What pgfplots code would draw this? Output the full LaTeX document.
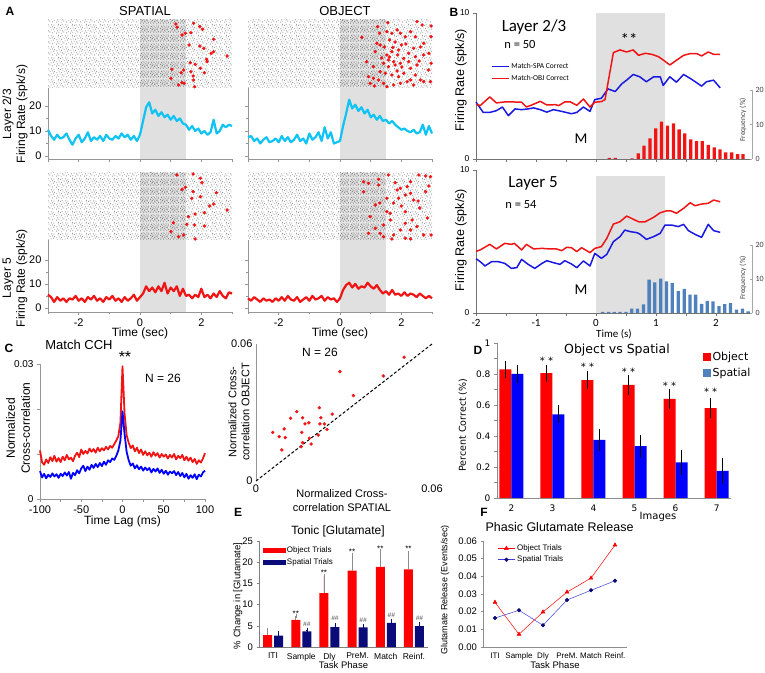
\documentclass[border=0pt]{standalone}
\usepackage{pgfplots}
\pgfplotsset{compat=1.18}
\usepackage{fontspec}
\setmainfont{Liberation Sans}
\newfontfamily\carlito{Carlito}
\newfontfamily\dejavu{DejaVu Sans}
\usetikzlibrary{patterns}
\newcommand\fz[2]{\fontsize{#1}{#2}\selectfont}
\definecolor{cyanA}{RGB}{15,195,245}
\definecolor{redA}{RGB}{240,20,20}
\definecolor{blueB}{RGB}{25,25,225}
\definecolor{steelB}{RGB}{79,129,189}
\definecolor{shade}{RGB}{224,224,224}
\definecolor{navyE}{RGB}{10,10,120}
\definecolor{axgray}{RGB}{150,150,150}

\newcommand\rk[2]{\pgfpathrectangle{\pgfpoint{#1pt}{#2pt}}{\pgfpoint{0.5pt}{1.1pt}}}
\pgfdeclarepatternformonly{rastA}{\pgfpointorigin}{\pgfpoint{14pt}{11pt}}{\pgfpoint{14pt}{11pt}}{%
\rk{0.3}{0.4}\rk{2.9}{1.1}\rk{5.6}{0.2}\rk{8.1}{1.6}\rk{10.7}{0.7}\rk{12.8}{2.1}%
\rk{1.4}{2.8}\rk{4.2}{3.5}\rk{6.9}{2.9}\rk{9.5}{3.9}\rk{11.9}{4.6}\rk{0.6}{5.2}%
\rk{3.1}{6.0}\rk{5.8}{5.4}\rk{8.4}{6.6}\rk{10.9}{7.0}\rk{13.1}{6.3}\rk{1.9}{8.1}%
\rk{4.6}{8.7}\rk{7.2}{8.0}\rk{9.8}{9.3}\rk{12.3}{8.9}\rk{2.5}{9.7}\rk{6.3}{9.6}%
\pgfusepath{fill}}
\pgfdeclarepatternformonly{rastB}{\pgfpointorigin}{\pgfpoint{10pt}{9pt}}{\pgfpoint{10pt}{9pt}}{%
\rk{0.2}{0.3}\rk{1.9}{1.2}\rk{3.6}{0.5}\rk{5.4}{1.5}\rk{7.1}{0.2}\rk{8.8}{1.0}%
\rk{0.9}{2.6}\rk{2.7}{3.1}\rk{4.5}{2.7}\rk{6.3}{3.4}\rk{8.1}{2.9}\rk{0.4}{4.6}%
\rk{2.1}{5.1}\rk{3.9}{4.4}\rk{5.7}{5.3}\rk{7.5}{4.8}\rk{9.2}{5.6}\rk{1.3}{6.8}%
\rk{3.1}{7.2}\rk{4.9}{6.6}\rk{6.8}{7.4}\rk{8.5}{6.9}%
\pgfusepath{fill}}

\pgfplotsset{
  every axis/.append style={scale only axis, clip=false, /pgf/number format/assume math mode=true},
  raster/.style={anchor=south west, width=184pt, height=68pt, xmin=-3, xmax=3, ymin=0, ymax=68, y dir=reverse, hide axis},
  frbase/.style={anchor=south west, xmin=-3, xmax=3, width=184pt, axis x line*=bottom, axis y line*=left,
     axis line style={axgray,line width=0.6pt}, tick style={axgray,line width=0.6pt}, tick align=outside,
     major tick length=3pt, minor tick length=2pt, ytick={0,10,20}, minor ytick={5,15},
     tick label style={font=\fz{11}{12}}, xlabel style={font=\fz{12}{13}, yshift=5pt}},
}

\begin{document}
\begin{tikzpicture}
\useasboundingbox (0,0) rectangle (765pt,672pt);

% ================= PANEL A =================
\node[font=\bfseries\fz{12}{12}] at (10pt,661pt) {A};
\node[font=\fz{13}{14}] at (145pt,661pt) {SPATIAL};
\node[font=\fz{13}{14}] at (345pt,661pt) {OBJECT};
\node[rotate=90, align=center, font=\fz{12}{14}] at (15pt,558pt) {Layer 2/3\\Firing Rate (spk/s)};
\node[rotate=90, align=center, font=\fz{12}{14}] at (15pt,394pt) {Layer 5\\Firing Rate (spk/s)};

% raster top-left
\begin{axis}[raster, at={(48pt,584pt)}]
\addplot[draw=none, pattern=rastA, pattern color=black!60] coordinates {(-3,0)(3,0)(3,68)(-3,68)} -- cycle;
\addplot[draw=none, fill=shade, fill opacity=0.85] coordinates {(0,0)(1.5,0)(1.5,68)(0,68)} -- cycle;
\addplot[draw=none, pattern=rastB, pattern color=black!65] coordinates {(0,0)(1.5,0)(1.5,68)(0,68)} -- cycle;
\addplot[only marks, mark=*, mark size=1.5pt, color=redA] coordinates {(1.17,4)(1.21,7.3)(1.75,3.3)(1.95,6.7)(2.04,9.3)(1.37,15)(1.48,13.3)(1.66,12.7)(2.40,19.3)(1.95,26)(2.08,28.3)(2.32,33.3)(2.40,31.7)(2.19,41.7)(2.17,39.3)(1.97,48.3)(1.80,44.3)(1.64,42.7)(2.84,36)(1.60,25)(1.42,50)(1.04,49.3)(1.34,52.7)(1.66,51.7)(1.73,56)(1.75,60)(1.37,62.7)(1.26,65)(1.01,58.3)(2.10,52.7)(1.78,66.7)(1.44,63.3)};
\end{axis}
% raster top-right
\begin{axis}[raster, at={(248pt,584pt)}]
\addplot[draw=none, pattern=rastA, pattern color=black!60] coordinates {(-3,0)(3,0)(3,68)(-3,68)} -- cycle;
\addplot[draw=none, fill=shade, fill opacity=0.85] coordinates {(0,0)(1.5,0)(1.5,68)(0,68)} -- cycle;
\addplot[draw=none, pattern=rastB, pattern color=black!65] coordinates {(0,0)(1.5,0)(1.5,68)(0,68)} -- cycle;
\addplot[only marks, mark=*, mark size=1.5pt, color=redA] coordinates {(1.23,6.7)(1.29,13.3)(1.56,2.7)(1.53,11.7)(0.71,17.3)(1.20,23.3)(1.31,25)(1.69,13.3)(1.86,10)(1.97,13.3)(2.13,16.7)(2.30,11.7)(2.46,16.7)(2.51,1.7)(2.68,5)(2.97,6)(2.97,16.7)(2.73,23.3)(2.40,28.3)(2.24,33.3)(1.91,30)(1.69,31.7)(1.53,35)(1.58,40)(1.75,41.7)(1.42,43.3)(1.58,46.7)(1.80,45)(1.97,43.3)(2.08,38.3)(2.24,41.7)(2.46,36.7)(2.51,45)(2.73,35)(2.90,33.3)(2.97,43.3)(2.30,48.3)(2.08,53.3)(1.91,56.7)(1.69,55)(1.48,53.3)(1.31,51.7)(1.09,58.3)(0.93,56.7)(0.87,41.7)(1.15,31.7)(1.09,46.7)(2.46,55)(2.62,60)(2.19,61.7)(2.40,65)(1.97,63.3)(1.75,65)(1.42,63.3)(1.53,66.7)(2.73,61.7)(2.95,61.7)(2.30,60)(1.26,60)(0.98,63.3)(1.62,20)(1.80,22)(2.00,25)(1.45,27)(1.72,27.5)(2.15,24)(1.88,35)(1.62,37)(2.62,27)(2.88,50)(2.02,47)(1.86,51)(2.58,41)(1.36,38)(1.12,66)};
\end{axis}

% firing rate L2/3 spatial
\begin{axis}[frbase, at={(48pt,513pt)}, height=71pt, ymin=-1.2, ymax=27.2, xtick={-3,-2,-1,0,1,2,3}, xticklabel={\empty}]
\addplot[draw=none, fill=shade] coordinates {(0,-1.2)(1.5,-1.2)(1.5,27.2)(0,27.2)} -- cycle;
\addplot[cyanA, line width=2.2pt, line join=round] coordinates {(-3,10.5)(-2.9,8)(-2.8,6.5)(-2.7,8.5)(-2.6,7)(-2.5,7.5)(-2.4,9)(-2.3,6.5)(-2.2,4.5)(-2.1,7)(-2,8.5)(-1.9,5.5)(-1.8,7)(-1.7,9.5)(-1.6,6)(-1.5,7.5)(-1.4,6.5)(-1.3,8)(-1.2,6)(-1.1,8.5)(-1,7)(-0.9,6.5)(-0.8,8)(-0.7,7)(-0.6,9)(-0.5,7.5)(-0.4,8.5)(-0.3,6.5)(-0.2,8)(-0.1,6)(0,8.5)(0.1,14)(0.2,19.5)(0.3,21.5)(0.4,17)(0.5,18.5)(0.6,16)(0.7,17.5)(0.8,15.5)(0.9,16.5)(1,14.5)(1.1,16)(1.2,14)(1.3,15)(1.4,13)(1.5,12.5)(1.6,10.5)(1.7,12)(1.8,10)(1.9,11)(2,9)(2.1,10)(2.2,8.5)(2.3,9.5)(2.4,14.5)(2.5,9)(2.6,10)(2.7,12.5)(2.8,11.5)(2.9,12.5)(3,12)};
\end{axis}
% firing rate L2/3 object
\begin{axis}[frbase, at={(248pt,513pt)}, height=71pt, ymin=-1.2, ymax=27.2, xtick={-3,-2,-1,0,1,2,3}, xticklabel={\empty}, yticklabel={\empty}]
\addplot[draw=none, fill=shade] coordinates {(0,-1.2)(1.5,-1.2)(1.5,27.2)(0,27.2)} -- cycle;
\addplot[cyanA, line width=2.2pt, line join=round] coordinates {(-3,7.5)(-2.9,8)(-2.8,6)(-2.7,7)(-2.6,5)(-2.5,6.5)(-2.4,7.5)(-2.3,5.5)(-2.2,6)(-2.1,7)(-2,5.5)(-1.9,8)(-1.8,6)(-1.7,7.5)(-1.6,5.5)(-1.5,6.5)(-1.4,8.5)(-1.3,6)(-1.2,7)(-1.1,5)(-1,9)(-0.9,6.5)(-0.8,7.5)(-0.7,9.5)(-0.6,6)(-0.5,11.5)(-0.4,7)(-0.3,9.5)(-0.2,5)(-0.1,5.5)(0,6)(0.1,12)(0.2,17)(0.3,22.5)(0.4,19)(0.5,20.5)(0.6,18)(0.7,19.5)(0.8,17)(0.9,18.5)(1,15.5)(1.1,16.5)(1.2,14.5)(1.3,16)(1.4,14)(1.5,14.5)(1.6,13)(1.7,14)(1.8,12.5)(1.9,11.5)(2,10.5)(2.1,11)(2.2,10)(2.3,9.5)(2.4,10.5)(2.5,9)(2.6,9.5)(2.7,12.5)(2.8,8.5)(2.9,12)(3,9)};
\end{axis}

% raster bottom-left
\begin{axis}[raster, at={(48pt,432pt)}, height=67pt, ymax=67]
\addplot[draw=none, pattern=rastA, pattern color=black!60] coordinates {(-3,0)(3,0)(3,67)(-3,67)} -- cycle;
\addplot[draw=none, fill=shade, fill opacity=0.85] coordinates {(0,0)(1.5,0)(1.5,67)(0,67)} -- cycle;
\addplot[draw=none, pattern=rastB, pattern color=black!65] coordinates {(0,0)(1.5,0)(1.5,67)(0,67)} -- cycle;
\addplot[only marks, mark=*, mark size=1.5pt, color=redA] coordinates {(1.20,2)(1.73,1)(1.97,5.3)(2.02,9.7)(1.37,16.3)(1.48,14.3)(1.73,18.7)(2.49,19.7)(1.97,23.7)(1.69,25.3)(2.27,33)(2.40,31)(2.10,39.7)(1.80,41)(2.84,37)(1.58,43.7)(1.53,51.3)(1.78,52)(1.09,49.7)(2.10,53)(1.01,58.7)(1.26,63.7)(1.42,62)(1.80,66)};
\end{axis}
% raster bottom-right
\begin{axis}[raster, at={(248pt,432pt)}, height=67pt, ymax=67]
\addplot[draw=none, pattern=rastA, pattern color=black!60] coordinates {(-3,0)(3,0)(3,67)(-3,67)} -- cycle;
\addplot[draw=none, fill=shade, fill opacity=0.85] coordinates {(0,0)(1.5,0)(1.5,67)(0,67)} -- cycle;
\addplot[draw=none, pattern=rastB, pattern color=black!65] coordinates {(0,0)(1.5,0)(1.5,67)(0,67)} -- cycle;
\addplot[only marks, mark=*, mark size=1.5pt, color=redA] coordinates {(0.77,8.7)(1.26,6.3)(1.26,12)(1.58,2)(1.80,9.7)(1.97,15.3)(2.19,13.7)(2.57,2)(2.79,3)(2.95,3.7)(2.30,20.3)(2.13,22)(0.77,18.7)(0.93,10.3)(1.15,32)(1.30,30)(1.53,25.3)(1.53,38.7)(1.86,17)(1.91,25.3)(2.30,8.7)(2.40,27)(2.79,18.7)(2.90,13)(0.98,43.7)(1.64,40.3)(2.13,38.7)(1.64,47)(2.13,50.3)(2.35,47)(1.97,57)(2.30,57)(2.51,53.7)(2.73,62)(2.97,62)(1.75,62)(1.42,63.7)(1.31,60.3)(0.93,60.3)(1.15,55.3)(1.42,52)(2.30,66)(1.69,66)(2.13,65.3)(2.60,35)(2.85,45)(1.75,30)(2.00,33)(2.55,28)};
\end{axis}

% firing rate L5 spatial
\begin{axis}[frbase, at={(48pt,360pt)}, height=72pt, ymin=-1.7, ymax=28.3, xtick={-2,0,2}, minor xtick={-3,-1,1,3}, xlabel={Time (sec)}]
\addplot[draw=none, fill=shade] coordinates {(0,-1.7)(1.5,-1.7)(1.5,28.3)(0,28.3)} -- cycle;
\addplot[redA, line width=2.2pt, line join=round] coordinates {(-3,5.5)(-2.9,4.5)(-2.8,2.5)(-2.7,4.5)(-2.6,3)(-2.5,4)(-2.4,2.5)(-2.3,4)(-2.2,3.5)(-2.1,5)(-2,3)(-1.9,4)(-1.8,2.5)(-1.7,4.5)(-1.6,3.5)(-1.5,5)(-1.4,3)(-1.3,4)(-1.2,2.5)(-1.1,4.5)(-1,3.5)(-0.9,5)(-0.8,3)(-0.7,4)(-0.6,2.5)(-0.5,4.5)(-0.4,3)(-0.3,4)(-0.2,5.5)(-0.1,3)(0,4.5)(0.1,6)(0.2,9)(0.3,7)(0.4,8.5)(0.5,6.5)(0.6,9)(0.7,7)(0.8,10.5)(0.9,6)(1,8.5)(1.1,7)(1.2,9)(1.3,5)(1.4,8)(1.5,5)(1.6,5.5)(1.7,4)(1.8,5.5)(1.9,4.5)(2,8)(2.1,4.5)(2.2,5.5)(2.3,4)(2.4,6)(2.5,4.5)(2.6,7)(2.7,5)(2.8,4)(2.9,6.5)(3,6)};
\end{axis}
% firing rate L5 object
\begin{axis}[frbase, at={(248pt,360pt)}, height=72pt, ymin=-1.7, ymax=28.3, xtick={-2,0,2}, minor xtick={-3,-1,1,3}, yticklabel={\empty}, xlabel={Time (sec)}]
\addplot[draw=none, fill=shade] coordinates {(0,-1.7)(1.5,-1.7)(1.5,28.3)(0,28.3)} -- cycle;
\addplot[redA, line width=2.2pt, line join=round] coordinates {(-3,4)(-2.9,3)(-2.8,4.5)(-2.7,3.5)(-2.6,2.5)(-2.5,4)(-2.4,3)(-2.3,3.5)(-2.2,2.5)(-2.1,4)(-2,3)(-1.9,4.5)(-1.8,3)(-1.7,5)(-1.6,3.5)(-1.5,3)(-1.4,4.5)(-1.3,2.5)(-1.2,3.5)(-1.1,4.5)(-1,3)(-0.9,5)(-0.8,3.5)(-0.7,4)(-0.6,5)(-0.5,3)(-0.4,4.5)(-0.3,3.5)(-0.2,4)(-0.1,2.5)(0,4)(0.1,7.5)(0.2,9.5)(0.3,10.5)(0.4,8.5)(0.5,10)(0.6,8)(0.7,9)(0.8,8.5)(0.9,10.5)(1,9)(1.1,8)(1.2,9.5)(1.3,7.5)(1.4,6)(1.5,7)(1.6,5.5)(1.7,7.5)(1.8,5.5)(1.9,6)(2,5)(2.1,6.5)(2.2,5)(2.3,6)(2.4,5.5)(2.5,4.5)(2.6,6)(2.7,5)(2.8,4)(2.9,5)(3,4)};
\end{axis}

% ================= PANEL B =================
\node[font=\bfseries\fz{12}{12}] at (454pt,660pt) {B};
\node[rotate=90, font=\fz{12.5}{13}] at (461pt,592pt) {Firing Rate (spk/s)};
\node[rotate=90, font=\fz{12.5}{13}] at (461pt,432pt) {Firing Rate (spk/s)};

\begin{axis}[anchor=south west, at={(476pt,513pt)}, width=276pt, height=146pt, xmin=-2, xmax=2.6, ymin=0, ymax=10,
  axis x line*=bottom, axis y line*=left, axis line style={black!55,line width=0.6pt}, tick style={black!55,line width=0.6pt},
  tick align=outside, major tick length=3pt, minor tick length=3pt, xtick={-2,-1,0,1,2}, minor xtick={-1.5,-0.5,0.5,1.5},
  xticklabel={\empty}, ytick={0,10}, yticklabel style={font=\fz{8.5}{9}},
  legend style={at={(0.055,0.67)}, anchor=north west, draw=none, fill=none, font=\carlito\fz{7.5}{8}, inner sep=0pt, row sep=1pt},
  legend cell align=left, legend image code/.code={\draw[#1,line width=1pt] (0pt,0pt) -- (17pt,0pt);}]
\addplot[draw=none, fill=shade, forget plot] coordinates {(0,0)(1.15,0)(1.15,10)(0,10)} -- cycle;
\addplot[blueB, line width=1.5pt, line join=round] coordinates {(-2,3.9)(-1.88,3.19)(-1.77,3.19)(-1.66,3.31)(-1.56,3.56)(-1.46,2.97)(-1.35,3.43)(-1.24,3.38)(-1.13,3.43)(-1.04,3.50)(-0.93,3.38)(-0.82,3.21)(-0.71,3.38)(-0.57,3.26)(-0.41,3.10)(-0.32,3.19)(-0.21,3.56)(-0.10,3.26)(-0.02,4.07)(0.09,4.16)(0.20,4.80)(0.32,4.62)(0.43,5.15)(0.51,5.40)(0.62,5.79)(0.73,5.63)(0.84,5.29)(0.96,5.63)(1.07,5.63)(1.12,5.04)(1.23,5.63)(1.34,5.26)(1.46,5.79)(1.57,5.52)(1.68,5.22)(1.76,4.99)(1.84,5.29)(1.96,5.40)(2.07,4.87)};
\addlegendentry{Match-SPA Correct}
\addplot[redA, line width=1.5pt, line join=round] coordinates {(-2,3.75)(-1.93,3.66)(-1.77,4.25)(-1.66,3.84)(-1.52,3.91)(-1.41,3.91)(-1.24,3.89)(-1.16,3.56)(-1.07,3.70)(-0.93,3.95)(-0.82,3.70)(-0.68,3.72)(-0.62,3.66)(-0.52,3.91)(-0.43,3.91)(-0.32,3.68)(-0.21,4.11)(-0.10,3.56)(-0.02,3.89)(0.09,3.93)(0.15,4.07)(0.29,7.29)(0.40,7.47)(0.51,7.33)(0.62,7.47)(0.71,7.10)(0.82,7.24)(0.93,7.17)(1.04,7.01)(1.12,6.78)(1.23,6.44)(1.34,6.76)(1.46,7.10)(1.57,7.22)(1.68,7.22)(1.76,7.06)(1.87,7.33)(1.96,7.17)(2.07,7.17)};
\addlegendentry{Match-OBJ Correct}
\end{axis}
\begin{axis}[anchor=south west, at={(476pt,513pt)}, width=276pt, height=69pt, xmin=-2, xmax=2.6, ymin=0, ymax=20,
  axis x line=none, axis y line*=right, axis line style={black!35}, tick style={black!35}, major tick length=2pt,
  ytick={0,10,20}, yticklabel style={font=\carlito\fz{8}{8}, text=black!75}]
\addplot[ybar, bar width=3.3pt, fill=redA, draw=none] coordinates {(0.22,0.3)(0.32,0.3)(0.60,0.2)(0.705,1.6)(0.80,3.9)(0.90,6.0)(0.995,8.9)(1.09,10.8)(1.19,9.7)(1.29,10.3)(1.385,8.6)(1.48,7.4)(1.58,5.7)(1.675,5.2)(1.77,5.2)(1.87,4.1)(1.97,3.4)(2.065,2.8)(2.16,1.9)(2.26,1.9)(2.36,1.4)(2.45,1.4)};
\end{axis}
\node[font=\carlito\fz{17}{17}] at (534pt,645pt) {Layer 2/3};
\node[font=\carlito\fz{12.5}{13}] at (520pt,628pt) {n = 50};
\node[font=\carlito\fz{17}{17}] at (629pt,633pt) {**};
\node[font=\carlito\fz{15}{15}] at (581pt,533pt) {M};
\node[rotate=90, font=\carlito\fz{7.5}{8}, text=black!75] at (743pt,552pt) {Frequency (\%)};

\begin{axis}[anchor=south west, at={(476pt,359pt)}, width=276pt, height=143pt, xmin=-2, xmax=2.6, ymin=0, ymax=10,
  axis x line*=bottom, axis y line*=left, axis line style={black!55,line width=0.6pt}, tick style={black!55,line width=0.6pt},
  tick align=outside, major tick length=3pt, minor tick length=3pt, xtick={-2,-1,0,1,2}, minor xtick={-1.5,-0.5,0.5,1.5},
  xticklabel style={font=\carlito\fz{11}{12}}, ytick={0,10}, yticklabel style={font=\fz{8.5}{9}},
  xlabel={Time (s)}, xlabel style={font=\carlito\fz{11}{12}, yshift=4pt}]
\addplot[draw=none, fill=shade] coordinates {(0,0)(1.15,0)(1.15,9.6)(0,9.6)} -- cycle;
\addplot[blueB, line width=1.5pt, line join=round] coordinates {(-2,3.8)(-1.93,3.59)(-1.85,3.29)(-1.74,3.59)(-1.63,3.59)(-1.52,3.47)(-1.41,3.12)(-1.32,3.17)(-1.24,3.75)(-1.13,3.40)(-1.02,3.12)(-0.90,3.47)(-0.82,3.66)(-0.71,3.52)(-0.60,3.40)(-0.52,3.66)(-0.41,3.43)(-0.32,3.17)(-0.21,3.64)(-0.10,3.29)(-0.02,4.17)(0.09,3.82)(0.18,4.10)(0.29,4.99)(0.40,5.34)(0.48,5.80)(0.57,5.69)(0.68,5.62)(0.73,5.52)(0.84,5.15)(0.96,5.34)(1.07,5.57)(1.15,6.15)(1.26,6.15)(1.37,6.04)(1.46,6.20)(1.54,5.76)(1.65,5.50)(1.76,5.29)(1.87,6.20)(1.96,5.76)(2.07,5.64)};
\addplot[redA, line width=1.5pt, line join=round] coordinates {(-2,4.3)(-1.93,4.41)(-1.77,4.80)(-1.66,4.48)(-1.52,4.87)(-1.41,4.80)(-1.36,4.87)(-1.24,4.41)(-1.16,4.80)(-1.04,4.48)(-0.90,4.52)(-0.77,4.48)(-0.66,4.48)(-0.57,4.36)(-0.49,4.59)(-0.41,4.57)(-0.32,4.29)(-0.24,4.57)(-0.10,4.22)(-0.02,4.52)(0.09,4.64)(0.18,5.22)(0.29,6.22)(0.40,6.38)(0.51,6.78)(0.59,6.62)(0.71,6.38)(0.82,6.38)(0.96,6.69)(1.07,7.01)(1.18,7.15)(1.26,7.13)(1.34,6.97)(1.46,7.32)(1.57,7.71)(1.65,7.50)(1.76,7.62)(1.87,7.67)(1.96,7.90)(2.07,7.78)};
\end{axis}
\begin{axis}[anchor=south west, at={(476pt,359pt)}, width=276pt, height=68pt, xmin=-2, xmax=2.6, ymin=0, ymax=20,
  axis x line=none, axis y line*=right, axis line style={black!35}, tick style={black!35}, major tick length=2pt,
  ytick={0,10,20}, yticklabel style={font=\carlito\fz{8}{8}, text=black!75}]
\addplot[ybar, bar width=3.3pt, fill=steelB, draw=none] coordinates {(0.11,0.3)(0.21,0.3)(0.305,0.3)(0.40,0.3)(0.50,0.3)(0.595,1.3)(0.69,1.3)(0.79,2.5)(0.885,9.8)(0.98,9.0)(1.08,10.1)(1.175,9.3)(1.27,8.8)(1.37,6.4)(1.47,7.1)(1.565,5.4)(1.66,5.4)(1.76,2.7)(1.855,3.6)(1.95,3.4)(2.05,2.0)(2.145,2.6)(2.24,2.9)(2.34,1.0)(2.44,1.3)(2.535,0.5)};
\end{axis}
\node[font=\carlito\fz{17}{17}] at (533pt,489pt) {Layer 5};
\node[font=\carlito\fz{12.5}{13}] at (521pt,467pt) {n = 54};
\node[font=\carlito\fz{15}{15}] at (581pt,382pt) {M};
\node[rotate=90, font=\carlito\fz{7.5}{8}, text=black!75] at (743pt,394pt) {Frequency (\%)};

% ================= PANEL C =================
\node[font=\bfseries\fz{12}{12}] at (9pt,324pt) {C};
\node[font=\fz{13}{14}] at (79pt,327pt) {Match CCH};
\node[rotate=90, align=center, font=\fz{12}{15}] at (18pt,244pt) {Normalized\\Cross-correlation};
\begin{axis}[anchor=south west, at={(40pt,173pt)}, width=165pt, height=135pt, xmin=-100, xmax=100, ymin=0, ymax=30,
  axis x line*=bottom, axis y line*=left, axis line style={axgray,line width=0.6pt}, tick style={axgray,line width=0.6pt},
  tick align=outside, major tick length=3pt, minor tick length=3pt, xtick={-100,-50,0,50,100}, minor xtick={-75,-25,25,75},
  ytick={0,30}, yticklabels={0,0.03}, minor ytick={10,20}, xticklabel style={font=\fz{11}{12}}, yticklabel style={font=\fz{10}{11}},
  xlabel={Time Lag (ms)}, xlabel style={font=\fz{12}{13}, yshift=4pt}]
\addplot[redA, line width=1.8pt, line join=round] coordinates {(-100,10.8)(-97.5,8.2)(-95,7.6)(-92.5,8.8)(-90,8.0)(-87.5,9.3)(-85,8.4)(-82.5,9.6)(-80,8.3)(-77.5,9.1)(-75,8.2)(-72.5,9.4)(-70,8.6)(-67.5,9.8)(-65,8.8)(-62.5,9.2)(-60,8.4)(-57.5,9.6)(-55,10.3)(-52.5,9.3)(-50,11.0)(-47.5,10.0)(-45,10.7)(-42.5,10.1)(-40,11.2)(-37.5,10.5)(-35,11.1)(-32.5,10.3)(-30,11.4)(-27.5,10.6)(-25,11.3)(-22.5,10.8)(-20,11.6)(-17.5,11.0)(-15,11.8)(-12.5,11.4)(-10,12.2)(-7.5,13.0)(-5,14.0)(-2.5,17.0)(0,29.5)(2.5,19.0)(5,14.2)(7.5,12.5)(10,11.3)(12.5,11.9)(15,10.6)(17.5,11.4)(20,10.2)(22.5,11.0)(25,9.8)(27.5,10.6)(30,9.7)(32.5,10.3)(35,9.4)(37.5,10.4)(40,9.6)(42.5,10.2)(45,9.2)(47.5,10.0)(50,9.4)(52.5,9.9)(55,9.0)(57.5,9.8)(60,9.2)(62.5,10.0)(65,8.8)(67.5,9.6)(70,9.1)(72.5,9.8)(75,8.6)(77.5,9.4)(80,8.5)(82.5,9.2)(85,8.2)(87.5,8.9)(90,7.8)(92.5,8.6)(95,8.1)(97.5,9.0)(100,10.2)};
\addplot[blue, line width=1.8pt, line join=round] coordinates {(-100,6.2)(-97.5,4.8)(-95,5.6)(-92.5,4.6)(-90,5.4)(-87.5,4.9)(-85,5.7)(-82.5,5.0)(-80,5.5)(-77.5,4.7)(-75,5.6)(-72.5,5.1)(-70,5.9)(-67.5,5.2)(-65,6.0)(-62.5,4.5)(-60,5.8)(-57.5,5.3)(-55,6.4)(-52.5,5.7)(-50,6.8)(-47.5,7.4)(-45,6.2)(-42.5,7.2)(-40,6.5)(-37.5,7.6)(-35,6.9)(-32.5,7.8)(-30,7.1)(-27.5,8.0)(-25,7.3)(-22.5,8.3)(-20,7.6)(-17.5,8.6)(-15,8.2)(-12.5,9.0)(-10,8.7)(-7.5,9.6)(-5,10.8)(-2.5,13.0)(0,19.5)(2.5,14.5)(5,10.5)(7.5,8.6)(10,7.4)(12.5,7.9)(15,6.8)(17.5,7.5)(20,6.6)(22.5,7.2)(25,6.3)(27.5,7.0)(30,6.4)(32.5,6.9)(35,5.9)(37.5,6.7)(40,6.1)(42.5,6.8)(45,5.8)(47.5,6.5)(50,5.6)(52.5,6.3)(55,5.4)(57.5,6.1)(60,5.7)(62.5,6.2)(65,5.3)(67.5,6.0)(70,5.1)(72.5,5.8)(75,4.8)(77.5,5.6)(80,4.5)(82.5,5.3)(85,4.7)(87.5,5.5)(90,4.4)(92.5,5.4)(95,5.0)(97.5,5.9)(100,6.3)};
\end{axis}
\node[font=\fz{16}{16}] at (125pt,315pt) {**};
\node[font=\fz{12}{13}] at (163pt,294pt) {N = 26};

% scatter
\node[rotate=90, align=center, font=\fz{11}{13}] at (239pt,260pt) {Normalized Cross-\\correlation OBJECT};
\begin{axis}[anchor=south west, at={(256pt,191pt)}, width=176pt, height=137pt, xmin=0, xmax=60, ymin=0, ymax=60,
  axis x line*=bottom, axis y line*=left, x axis line style={draw=none}, y axis line style={axgray,line width=0.6pt},
  xtick={0,60}, xticklabels={0,0.06}, ytick={0,60}, yticklabels={0,0.06}, major tick length=0pt, tick style={draw=none},
  tick label style={font=\fz{11}{12}}]
\addplot[black, line width=1pt, dash pattern=on 3pt off 2pt] coordinates {(0,0)(60,60)};
\addplot[only marks, mark=*, mark size=1.5pt, color=redA] coordinates {(28.6,47.9)(43.4,46.0)(50.5,54.2)(33.2,37.4)(13.9,30.4)(21.6,32.1)(26.0,29.3)(11.8,27.5)(15.9,27.7)(22.1,27.7)(5.7,21.3)(7.9,19.4)(9.6,22.8)(10.0,19.0)(8.8,13.6)(16.7,25.0)(18.0,25.5)(15.6,21.3)(15.9,16.8)(15.4,15.0)(18.2,18.7)(18.8,16.2)(21.8,25.0)(23.3,25.0)(24.2,22.6)(21.2,20.1)};
\end{axis}
\node[font=\fz{12}{13}] at (320pt,320pt) {N = 26};
\node[align=center, font=\fz{11}{14}] at (342pt,171pt) {Normalized Cross-\\correlation SPATIAL};

% ================= PANEL D =================
\node[font=\bfseries\fz{12}{12}] at (478pt,322pt) {D};
\node[font=\dejavu\fz{12.5}{13}] at (617pt,322pt) {Object vs Spatial};
\node[rotate=90, font=\dejavu\fz{9.5}{10}] at (463pt,247pt) {Percent Correct (\%)};
\node[font=\dejavu\fz{10}{11}] at (658pt,155pt) {Images};
\begin{axis}[anchor=south west, at={(497pt,174pt)}, width=234pt, height=155pt, xmin=1.65, xmax=7.35, ymin=0, ymax=1,
  ybar, bar width=12pt,
  axis x line*=bottom, axis y line*=left, axis line style={black!45,line width=0.6pt}, tick style={black!45,line width=0.6pt},
  tick align=outside, major tick length=3pt, minor tick length=3pt, xtick={2,3,4,5,6,7}, xtick style={draw=none},
  ytick={0,0.2,0.4,0.6,0.8,1}, minor ytick={0.1,0.3,0.5,0.7,0.9},
  tick label style={font=\dejavu\fz{9}{10}},
  legend style={at={(0.88,0.955)}, anchor=north west, draw=none, fill=none, font=\dejavu\fz{11}{12}, inner sep=0pt, row sep=2pt},
  legend cell align=left]
\addplot[bar shift=-6pt, fill=red, draw=none, forget plot,
  error bars/.cd, y dir=both, y explicit, error bar style={draw=black, line width=0.6pt}, error mark options={draw=black, mark size=3pt}]
  coordinates {(2,0.83) +- (0,0.035) (3,0.805) +- (0,0.035) (4,0.76) +- (0,0.04) (5,0.73) +- (0,0.045) (6,0.64) +- (0,0.045) (7,0.58) +- (0,0.045)};
\addplot[bar shift=6pt, fill=blue, draw=none, forget plot,
  error bars/.cd, y dir=both, y explicit, error bar style={draw=black, line width=0.6pt}, error mark options={draw=black, mark size=3pt}]
  coordinates {(2,0.80) +- (0,0.04) (3,0.54) +- (0,0.04) (4,0.375) +- (0,0.05) (5,0.335) +- (0,0.055) (6,0.23) +- (0,0.06) (7,0.175) +- (0,0.065)};
\addlegendimage{legend image code/.code={\fill[red] (0pt,-3.5pt) rectangle (7pt,3.5pt);}}
\addlegendentry{Object}
\addlegendimage{legend image code/.code={\fill[steelB] (0pt,-3.5pt) rectangle (7pt,3.5pt);}}
\addlegendentry{Spatial}
\node[font=\dejavu\fz{10}{10}, xshift=-6pt] at (axis cs:3,0.885) {* *};
\node[font=\dejavu\fz{10}{10}, xshift=-6pt] at (axis cs:4,0.845) {* *};
\node[font=\dejavu\fz{10}{10}, xshift=-6pt] at (axis cs:5,0.815) {* *};
\node[font=\dejavu\fz{10}{10}, xshift=-6pt] at (axis cs:6,0.725) {* *};
\node[font=\dejavu\fz{10}{10}, xshift=-6pt] at (axis cs:7,0.685) {* *};
\end{axis}

% ================= PANEL E =================
\node[font=\bfseries\fz{12}{12}] at (238pt,160pt) {E};
\node[font=\fz{12}{13}] at (338pt,141pt) {Tonic [Glutamate]};
\node[rotate=90, font=\fz{9.5}{10}] at (238pt,76pt) {\% Change in [Glutamate]};
\begin{axis}[anchor=south west, at={(259pt,25pt)}, width=169pt, height=106pt, xmin=-0.5, xmax=5.5, ymin=0, ymax=25,
  ybar, bar width=9pt,
  axis x line*=bottom, axis y line*=left, axis line style={black!50,line width=0.6pt}, tick style={black!50,line width=0.6pt},
  tick align=outside, major tick length=2.5pt, xtick={0,1,2,3,4,5}, xticklabels={ITI,Sample,Dly,PreM.,Match,Reinf.}, xtick style={draw=none},
  ytick={0,5,10,15,20,25}, yticklabel style={font=\fz{9.5}{10}}, xticklabel style={font=\fz{8.5}{9}},
  xlabel={Task Phase}, xlabel style={font=\fz{9.5}{10}, yshift=6pt},
  legend style={at={(0.02,0.965)}, anchor=north west, draw=none, fill=none, font=\fz{8}{9}, inner sep=0pt, row sep=0pt},
  legend cell align=left]
\addplot[bar shift=-5.5pt, fill=red, draw=none, forget plot,
  error bars/.cd, y dir=plus, y explicit, error bar style={draw=black!45, line width=0.6pt}, error mark options={draw=black!45, mark size=2pt}]
  coordinates {(0,2.8) +- (0,1.1) (1,6.4) +- (0,0.8) (2,12.7) +- (0,4.0) (3,18.0) +- (0,3.8) (4,18.9) +- (0,3.7) (5,18.3) +- (0,3.9)};
\addplot[bar shift=5.5pt, fill=navyE, draw=none, forget plot,
  error bars/.cd, y dir=plus, y explicit, error bar style={draw=navyE, line width=0.6pt}, error mark options={draw=navyE, mark size=2pt}]
  coordinates {(0,2.7) +- (0,0.6) (1,3.7) +- (0,0.4) (2,4.7) +- (0,0.6) (3,4.6) +- (0,0.4) (4,5.7) +- (0,0.5) (5,4.9) +- (0,0.6)};
\addlegendimage{legend image code/.code={\fill[red] (0pt,-2pt) rectangle (22pt,2pt);}}
\addlegendentry{Object Trials}
\addlegendimage{legend image code/.code={\fill[navyE] (0pt,-2pt) rectangle (22pt,2pt);}}
\addlegendentry{Spatial Trials}
\node[font=\fz{8}{8}, xshift=-5.5pt] at (axis cs:1,7.9) {**};
\node[font=\fz{8}{8}, xshift=-5.5pt] at (axis cs:2,17.4) {**};
\node[font=\fz{8}{8}, xshift=-5.5pt] at (axis cs:3,22.4) {**};
\node[font=\fz{8}{8}, xshift=-5.5pt] at (axis cs:4,23.2) {**};
\node[font=\fz{8}{8}, xshift=-5.5pt] at (axis cs:5,23.2) {**};
\node[font=\itshape\fz{6.5}{7}, text=black!70, xshift=5.5pt] at (axis cs:1,5.3) {\#\#};
\node[font=\itshape\fz{6.5}{7}, text=black!70, xshift=5.5pt] at (axis cs:2,6.8) {\#\#};
\node[font=\itshape\fz{6.5}{7}, text=black!70, xshift=5.5pt] at (axis cs:3,6.3) {\#\#};
\node[font=\itshape\fz{6.5}{7}, text=black!70, xshift=5.5pt] at (axis cs:4,7.4) {\#\#};
\node[font=\itshape\fz{6.5}{7}, text=black!70, xshift=5.5pt] at (axis cs:5,6.8) {\#\#};
\end{axis}

% ================= PANEL F =================
\node[font=\bfseries\fz{12}{12}] at (484pt,160pt) {F};
\node[anchor=west, font=\fz{12.5}{13}] at (482pt,145pt) {Phasic Glutamate Release};
\node[rotate=90, font=\fz{9}{10}] at (445pt,82pt) {Glutamate Release (Events/sec)};
\begin{axis}[anchor=south west, at={(483pt,25pt)}, width=144pt, height=106pt, xmin=-0.5, xmax=5.5, ymin=0, ymax=0.06,
  axis x line*=bottom, axis y line*=left, axis line style={black!45,line width=0.6pt}, tick style={black!45,line width=0.6pt},
  tick align=outside, major tick length=2.5pt, xtick={0,1,2,3,4,5}, xticklabels={ITI,Sample,Dly,PreM.,Match,Reinf.}, xtick style={draw=none},
  ytick={0,0.01,0.02,0.03,0.04,0.05,0.06}, scaled y ticks=false,
  yticklabel style={/pgf/number format/fixed, /pgf/number format/fixed zerofill, /pgf/number format/precision=2, font=\fz{9.5}{10}},
  xticklabel style={font=\fz{8}{9}, inner xsep=0pt},
  xlabel={Task Phase}, xlabel style={font=\fz{9.5}{10}, yshift=6pt},
  legend style={at={(0.1,0.985)}, anchor=north west, draw=none, fill=none, font=\fz{8}{9}, inner sep=0pt, row sep=0pt},
  legend cell align=left]
\addplot[red, line width=0.5pt, mark=triangle*, mark size=2.2pt] coordinates {(0,0.0253)(1,0.0072)(2,0.0198)(3,0.0311)(4,0.039)(5,0.0577)};
\addlegendentry{Object Trials}
\addplot[color={rgb,255:red,60;green,60;blue,220}, line width=0.5pt, mark=*, mark size=1.8pt, mark options={fill=navyE, draw=navyE}] coordinates {(0,0.0164)(1,0.0208)(2,0.0123)(3,0.0266)(4,0.0321)(5,0.0375)};
\addlegendentry{Spatial Trials}
\end{axis}

\end{tikzpicture}
\end{document}
